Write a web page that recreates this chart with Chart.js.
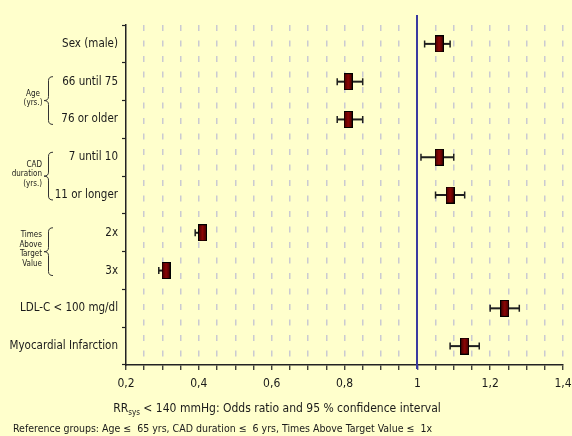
<!DOCTYPE html>
<html>
<head>
<meta charset="utf-8">
<script src="https://cdn.jsdelivr.net/npm/chart.js@4/dist/chart.umd.min.js"></script>
<style>
  html, body { margin: 0; padding: 0; background: #ffffcc; }
  #wrap { width: 572px; height: 436px; }
</style>
</head>
<body>
<div id="wrap"><canvas id="c" width="572" height="436"></canvas></div>
<script>
// Subgroups compared against the reference groups
const categories = ['Sex (male)', '66 until 75', '76 or older', '7 until 10', '11 or longer',
                    '2x', '3x', 'LDL-C < 100 mg/dl', 'Myocardial Infarction'];
const oddsRatio = [1.06, 0.81, 0.81, 1.06, 1.09, 0.41, 0.31, 1.24, 1.13];
const ciLower   = [1.02, 0.78, 0.78, 1.01, 1.05, 0.39, 0.29, 1.20, 1.09];
const ciUpper   = [1.09, 0.85, 0.85, 1.10, 1.13, 0.42, 0.32, 1.28, 1.17];

// Bracketed group captions on the left (first and last category of each group)
const groupCaptions = [['Age', '(yrs.)'], ['CAD', 'duration', '(yrs.)'], ['Times', 'Above', 'Target', 'Value']];
const groupFirst = [1, 3, 5];
const groupLast  = [2, 4, 6];

// X axis range, minor step and labelled step
const xMin = 0.2, xMax = 1.4, xStep = 0.05, xLabelStep = 0.2;
const referenceValue = 1;

const axisTitleMain = 'RR';
const axisTitleSub = 'sys';
const axisTitleRest = ' < 140 mmHg: Odds ratio and 95 % confidence interval';
const footnote = 'Reference groups: Age \u2264  65 yrs, CAD duration \u2264  6 yrs, Times Above Target Value \u2264  1x';

const FONT = '"DejaVu Sans Condensed", "Liberation Sans", sans-serif';
const TEXT = '#1a1a1a';

// Marker: dark red box with a black frame
function makeBox() {
  const w = 9, h = 17;
  const cv = document.createElement('canvas');
  cv.width = w; cv.height = h;
  const g = cv.getContext('2d');
  const grad = g.createLinearGradient(0, 0, w, 0);
  grad.addColorStop(0, '#3c0000');
  grad.addColorStop(0.5, '#8c0606');
  grad.addColorStop(1, '#3c0000');
  g.fillStyle = grad;
  g.fillRect(0, 0, w, h);
  g.strokeStyle = '#000';
  g.lineWidth = 1;
  g.strokeRect(0.5, 0.5, w - 1, h - 1);
  return cv;
}

const isLabelled = v => Math.abs(Math.round(v * 100) % Math.round(xLabelStep * 100)) === 0;

const whiskers = {
  id: 'whiskers',
  beforeDatasetsDraw(chart) {
    const { ctx, scales: { x, y } } = chart;
    ctx.save();
    ctx.strokeStyle = '#1e1e1e';
    categories.forEach((c, i) => {
      const py = y.getPixelForValue(i);
      const x1 = x.getPixelForValue(ciLower[i]);
      const x2 = x.getPixelForValue(ciUpper[i]);
      ctx.lineWidth = 2;
      ctx.beginPath();
      ctx.moveTo(x1, py); ctx.lineTo(x2, py);
      ctx.stroke();
      ctx.lineWidth = 1.5;
      ctx.beginPath();
      ctx.moveTo(x1, py - 3.5); ctx.lineTo(x1, py + 3.5);
      ctx.moveTo(x2, py - 3.5); ctx.lineTo(x2, py + 3.5);
      ctx.stroke();
    });
    ctx.restore();
  }
};

const referenceLine = {
  id: 'referenceLine',
  afterDraw(chart) {
    const { ctx, chartArea, scales: { x } } = chart;
    const px = Math.round(x.getPixelForValue(referenceValue));
    ctx.save();
    ctx.strokeStyle = '#3a3aa0';
    ctx.lineWidth = 2;
    ctx.beginPath();
    ctx.moveTo(px, chartArea.top - 10);
    ctx.lineTo(px, chartArea.bottom + 4);
    ctx.stroke();
    ctx.restore();
  }
};

function drawBrace(ctx, xTip, yTop, yBot, yTip, w) {
  const xs = xTip + w / 2, xe = xTip + w, r = 4;
  ctx.beginPath();
  ctx.moveTo(xe, yTop);
  ctx.quadraticCurveTo(xs, yTop, xs, yTop + r);
  ctx.lineTo(xs, yTip - r);
  ctx.quadraticCurveTo(xs, yTip, xTip, yTip);
  ctx.quadraticCurveTo(xs, yTip, xs, yTip + r);
  ctx.lineTo(xs, yBot - r);
  ctx.quadraticCurveTo(xs, yBot, xe, yBot);
  ctx.stroke();
}

const annotations = {
  id: 'annotations',
  afterDraw(chart) {
    const { ctx, scales: { y } } = chart;
    ctx.save();
    // group brackets and captions
    ctx.strokeStyle = '#333';
    ctx.lineWidth = 1;
    ctx.fillStyle = TEXT;
    ctx.font = '8px ' + FONT;
    ctx.textBaseline = 'middle';
    groupCaptions.forEach((lines, k) => {
      const yTop = y.getPixelForValue(groupFirst[k]) - 5;
      const yBot = y.getPixelForValue(groupLast[k]) + 5;
      const yTip = (yTop + yBot) / 2;
      drawBrace(ctx, 44, yTop, yBot, yTip, 9);
      const lh = 9.5;
      const y0 = yTip - 2 - (lines.length - 1) * lh / 2;
      ctx.textAlign = k === 0 ? 'center' : 'right';
      const tx = k === 0 ? 33 : 42;
      lines.forEach((t, j) => ctx.fillText(t, tx, y0 + j * lh));
    });

    // axis title with subscript
    ctx.textBaseline = 'alphabetic';
    ctx.textAlign = 'left';
    ctx.font = '12px ' + FONT;
    const wMain = ctx.measureText(axisTitleMain).width;
    const wRest = ctx.measureText(axisTitleRest).width;
    ctx.font = '8px ' + FONT;
    const wSub = ctx.measureText(axisTitleSub).width;
    const total = wMain + wSub + wRest;
    let tx = 277 - total / 2;
    const ty = 412;
    ctx.font = '12px ' + FONT;
    ctx.fillText(axisTitleMain, tx, ty);
    tx += wMain;
    ctx.font = '8px ' + FONT;
    ctx.fillText(axisTitleSub, tx, ty + 3);
    tx += wSub;
    ctx.font = '12px ' + FONT;
    ctx.fillText(axisTitleRest, tx, ty);

    // footnote
    ctx.font = '10.5px ' + FONT;
    ctx.fillText(footnote, 13, 432);
    ctx.restore();
  }
};

const chart = new Chart(document.getElementById('c'), {
  type: 'scatter',
  data: {
    datasets: [{
      data: categories.map((c, i) => ({ x: oddsRatio[i], y: c })),
      pointStyle: makeBox(),
      pointRadius: 8,
      showLine: false
    }]
  },
  options: {
    responsive: false,
    animation: false,
    events: [],
    layout: { padding: { left: 0, right: 0, top: 25, bottom: 0 } },
    plugins: { legend: { display: false }, tooltip: { enabled: false } },
    scales: {
      x: {
        type: 'linear',
        min: xMin, max: xMax,
        afterBuildTicks(scale) {
          const t = [];
          const n = Math.round((xMax - xMin) / xStep);
          for (let i = 0; i <= n; i++) t.push({ value: +(xMin + i * xStep).toFixed(2) });
          scale.ticks = t;
        },
        afterFit(scale) {
          scale.height = 71;
          scale.paddingRight = 8;
          scale.paddingLeft = 0;
        },
        ticks: {
          autoSkip: false,
          maxRotation: 0,
          padding: 7,
          color: TEXT,
          font: { family: FONT, size: 12 },
          callback: v => isLabelled(v) ? String(+v.toFixed(1)).replace('.', ',') : ''
        },
        grid: {
          drawOnChartArea: true,
          color: ctx => {
            const v = ctx.tick ? ctx.tick.value : null;
            if (v === null) return 'rgba(0,0,0,0)';
            if (Math.abs(v - xMin) < 1e-6 || Math.abs(v - referenceValue) < 1e-6) return 'rgba(0,0,0,0)';
            return '#cacad2';
          },
          lineWidth: 1.5,
          tickLength: 5,
          tickWidth: 1.2,
          tickColor: ctx => (ctx.tick && Math.abs(ctx.tick.value - referenceValue) < 1e-6) ? '#3a3aa0' : '#222'
        },
        border: { display: true, color: '#222', width: 1.5, dash: [6, 9.5] }
      },
      y: {
        type: 'category',
        labels: categories,
        offset: true,
        afterFit(scale) { scale.width = 126; },
        ticks: {
          color: TEXT,
          padding: 4,
          font: { family: FONT, size: 11.5 }
        },
        grid: {
          offset: true,
          drawOnChartArea: false,
          tickLength: 4,
          tickColor: '#222',
          tickWidth: 1.2
        },
        border: { display: true, color: '#222', width: 1.5 }
      }
    }
  },
  plugins: [whiskers, referenceLine, annotations]
});
</script>
</body>
</html>
